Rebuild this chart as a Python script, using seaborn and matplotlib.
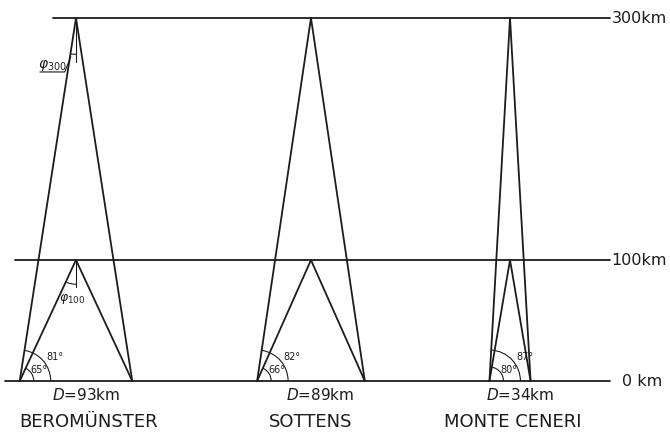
import numpy as np
import pandas as pd
import matplotlib
matplotlib.use('Agg')
import matplotlib.pyplot as plt
from matplotlib.patches import Arc
import seaborn as sns

# Datos
estaciones = ['BEROMÜNSTER', 'SOTTENS', 'MONTE CENERI']
distancias = [93, 89, 34]          # D en km (ancho de la base)
alturas = [0, 100, 300]            # capas de reflexión en km
etiquetas_altura = ['0 km', '100km', '300km']
angulos_100 = [65, 66, 80]         # ángulo de elevación hacia 100 km
angulos_300 = [81, 82, 87]         # ángulo de elevación hacia 300 km

# Posición horizontal de cada estación (km, sólo maquetación)
centros = [62.8, 257.0, 421.5]
inicio_lineas = [4, 12.4, 43.8]
fin_lineas = 504

sns.set_style('white')
plt.rcParams['font.family'] = ['DejaVu Sans']
COLOR = '#1c1c1c'

# Segmentos: triángulos de cada estación y líneas horizontales
filas = []
seg = 0
for c, d in zip(centros, distancias):
    for h in [100, 300]:
        for x, y in [(c - d / 2, 0), (c, h), (c + d / 2, 0)]:
            filas.append({'x': x, 'y': y, 'seg': seg})
        seg += 1
for h, x0 in zip(alturas, inicio_lineas):
    filas.append({'x': x0, 'y': h, 'seg': seg})
    filas.append({'x': fin_lineas, 'y': h, 'seg': seg})
    seg += 1
df = pd.DataFrame(filas)

fig = plt.figure(figsize=(6.7, 4.36), dpi=100)
ax = fig.add_axes([0, 0, 1, 1])
sns.lineplot(data=df, x='x', y='y', units='seg', estimator=None, sort=False,
             color=COLOR, lw=1.3, ax=ax, legend=False)

# Etiquetas de altura
for h, txt in zip(alturas, etiquetas_altura):
    ax.text(fin_lineas + (10 if h == 0 else 1.5), h, txt, ha='left', va='center',
            fontsize=11.5, color=COLOR)

# Arcos de ángulo y textos bajo cada estación
desplaz_nombre = [10, 0, 2]
for c, d, a1, a3, nombre, dn in zip(centros, distancias, angulos_100, angulos_300,
                                     estaciones, desplaz_nombre):
    x0 = c - d / 2
    t1 = np.degrees(np.arctan2(100, d / 2))
    t3 = np.degrees(np.arctan2(300, d / 2))
    ax.add_patch(Arc((x0, 0), 2 * 11.6, 2 * 11.6, theta1=0, theta2=t1,
                     color=COLOR, lw=0.8))
    ax.add_patch(Arc((x0, 0), 2 * 25.6, 2 * 25.6, theta1=0, theta2=t3,
                     color=COLOR, lw=0.8))
    ax.text(x0 + 16, 9, f'{a1}°', fontsize=7, ha='center', va='center',
            color=COLOR)
    ax.text(x0 + 29, 19.5, f'{a3}°', fontsize=7, ha='center', va='center',
            color=COLOR)
    ax.text(c + 8, -11.8, f'$D$=${d}$km', fontsize=11, ha='center', va='center',
            color=COLOR)
    ax.text(c + dn, -34, nombre, fontsize=13, ha='center', va='center',
            color=COLOR)

# Ángulos phi en Beromünster
c, d = centros[0], distancias[0]
ax.plot([c, c], [300, 264], color=COLOR, lw=0.8)
ang = np.degrees(np.arctan2(-300, -d / 2))
ax.add_patch(Arc((c, 300), 2 * 30, 2 * 30, theta1=ang, theta2=-90, color=COLOR, lw=0.8))
ax.plot([33, 53.5, 58.5], [255.4, 255.4, 268], color=COLOR, lw=0.8)
ax.text(43, 260.5, r'$\varphi_{300}$', fontsize=10, ha='center', va='center', color=COLOR)

ax.plot([c, c], [100, 77.7], color=COLOR, lw=0.8)
ang = np.degrees(np.arctan2(-100, -d / 2))
ax.add_patch(Arc((c, 100), 2 * 20, 2 * 20, theta1=ang, theta2=-90, color=COLOR, lw=0.8))
ax.text(59.5, 67.5, r'$\varphi_{100}$', fontsize=9, ha='center', va='center', color=COLOR)

ax.set_xlim(0, 670 / 1.21)
ax.set_ylim(-55 / 1.21, 381 / 1.21)
ax.set_axis_off()

fig.savefig('out.png', dpi=100)
